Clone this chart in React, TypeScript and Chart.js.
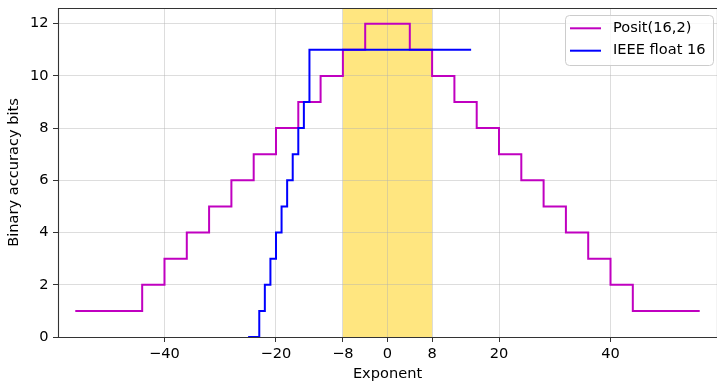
import React, { useEffect, useRef } from 'react';
import { Chart, registerables } from 'chart.js';

Chart.register(...registerables);

// ---- data ----
const positExponents = [-56, -44, -40, -36, -32, -28, -24, -20, -16, -12, -8, -4, 4, 8, 12, 16, 20, 24, 28, 32, 36, 40, 44, 56];
const positBits = [1, 2, 3, 4, 5, 6, 7, 8, 9, 10, 11, 12, 11, 10, 9, 8, 7, 6, 5, 4, 3, 2, 1, 1];
const ieeeExponents = [-25, -23, -22, -21, -20, -19, -18, -17, -16, -15, -14, 15];
const ieeeBits = [0, 1, 2, 3, 4, 5, 6, 7, 8, 9, 11, 11];
const xTicks = [-40, -20, -8, 0, 8, 20, 40];
const yTicks = [0, 2, 4, 6, 8, 10, 12];
const bandRange = [-8, 8];
const seriesLabels = ['Posit(16,2)', 'IEEE float 16'];
const seriesColors = ['#c000c0', '#0000ff'];
const xLabel = 'Exponent';
const yLabel = 'Binary accuracy bits';

const FONT_FAMILY = '"DejaVu Sans", sans-serif';
const FONT_SIZE = 14.6;

const fmt = (v: number) => (v < 0 ? '\u2212' + Math.abs(v) : String(v));

export default function App() {
  const ref = useRef<HTMLCanvasElement>(null);

  useEffect(() => {
    const canvas = ref.current;
    if (!canvas) return;

    const bandPlugin = {
      id: 'band',
      beforeDraw(chart: any) {
        const { ctx, chartArea, scales } = chart;
        const x0 = scales.x.getPixelForValue(bandRange[0]);
        const x1 = scales.x.getPixelForValue(bandRange[1]);
        ctx.save();
        ctx.fillStyle = '#ffe680';
        ctx.fillRect(x0, chartArea.top, x1 - x0, chartArea.bottom - chartArea.top);
        ctx.restore();
      },
    };

    const framePlugin = {
      id: 'frame',
      afterDatasetsDraw(chart: any) {
        const { ctx, chartArea } = chart;
        const l = Math.round(chartArea.left) + 0.5;
        const t = Math.round(chartArea.top) + 0.5;
        const b = Math.round(chartArea.bottom) + 0.5;
        const r = Math.round(chartArea.right) + 0.5;
        ctx.save();
        ctx.strokeStyle = '#333333';
        ctx.lineWidth = 1.1;
        ctx.beginPath();
        ctx.moveTo(r, t);
        ctx.lineTo(l, t);
        ctx.lineTo(l, b);
        ctx.lineTo(r, b);
        ctx.lineTo(r, t);
        ctx.stroke();
        ctx.restore();
      },
    };

    const legendPlugin = {
      id: 'legendBox',
      afterDraw(chart: any) {
        const { ctx } = chart;
        const bx = 565.5, by = 15.5, bw = 148, bh = 50, rad = 4;
        ctx.save();
        ctx.beginPath();
        ctx.moveTo(bx + rad, by);
        ctx.lineTo(bx + bw - rad, by);
        ctx.quadraticCurveTo(bx + bw, by, bx + bw, by + rad);
        ctx.lineTo(bx + bw, by + bh - rad);
        ctx.quadraticCurveTo(bx + bw, by + bh, bx + bw - rad, by + bh);
        ctx.lineTo(bx + rad, by + bh);
        ctx.quadraticCurveTo(bx, by + bh, bx, by + bh - rad);
        ctx.lineTo(bx, by + rad);
        ctx.quadraticCurveTo(bx, by, bx + rad, by);
        ctx.closePath();
        ctx.fillStyle = 'rgba(255,255,255,0.8)';
        ctx.fill();
        ctx.strokeStyle = '#cccccc';
        ctx.lineWidth = 1;
        ctx.stroke();
        const rows = [28.3, 50.7];
        seriesLabels.forEach((label, i) => {
          ctx.strokeStyle = seriesColors[i];
          ctx.lineWidth = 2;
          ctx.beginPath();
          ctx.moveTo(570, rows[i]);
          ctx.lineTo(601, rows[i]);
          ctx.stroke();
          ctx.fillStyle = '#000000';
          ctx.font = `${FONT_SIZE}px ${FONT_FAMILY}`;
          ctx.textAlign = 'left';
          ctx.textBaseline = 'middle';
          ctx.fillText(label, 613, rows[i]);
        });
        ctx.restore();
      },
    };

    const font = { family: FONT_FAMILY, size: FONT_SIZE, lineHeight: 1.2 };
    const gridColor = 'rgba(176,176,176,0.55)';

    const chart = new Chart(canvas, {
      type: 'line',
      data: {
        datasets: [
          {
            label: seriesLabels[0],
            data: positExponents.map((x, i) => ({ x, y: positBits[i] })),
            borderColor: seriesColors[0],
            backgroundColor: seriesColors[0],
            borderWidth: 2,
            pointRadius: 0,
            stepped: 'before',
            fill: false,
            order: 1,
          },
          {
            label: seriesLabels[1],
            data: ieeeExponents.map((x, i) => ({ x, y: ieeeBits[i] })),
            borderColor: seriesColors[1],
            backgroundColor: seriesColors[1],
            borderWidth: 2,
            pointRadius: 0,
            stepped: 'before',
            fill: false,
            order: 0,
          },
        ],
      },
      options: {
        responsive: false,
        animation: false,
        devicePixelRatio: 1,
        layout: { padding: { left: 0, right: -3, top: 8, bottom: 0 } },
        plugins: {
          legend: { display: false },
          tooltip: { enabled: false },
        },
        scales: {
          x: {
            type: 'linear',
            min: -59.1,
            max: 59.1,
            afterBuildTicks: (s: any) => {
              s.ticks = xTicks.map((v) => ({ value: v }));
            },
            afterFit: (s: any) => {
              s.height = 46;
              s.paddingLeft = 0;
              s.paddingRight = 0;
            },
            ticks: {
              callback: (v: any) => fmt(Number(v)),
              font,
              color: '#000000',
              padding: 3.4,
              maxRotation: 0,
              autoSkip: false,
            },
            grid: {
              color: gridColor,
              lineWidth: 0.8,
              drawTicks: true,
              tickLength: 5,
              tickColor: '#333333',
              tickWidth: 1,
            },
            border: { display: false },
            title: {
              display: true,
              text: xLabel,
              font,
              color: '#000000',
              padding: { top: 0, bottom: 0 },
            },
          },
          y: {
            type: 'linear',
            min: 0,
            max: 12.6,
            afterBuildTicks: (s: any) => {
              s.ticks = yTicks.map((v) => ({ value: v }));
            },
            afterFit: (s: any) => {
              s.width = 58;
              s.paddingTop = 0;
              s.paddingBottom = 0;
            },
            ticks: {
              callback: (v: any) => fmt(Number(v)),
              font,
              color: '#000000',
              padding: 4.5,
              autoSkip: false,
            },
            grid: {
              color: gridColor,
              lineWidth: 0.8,
              drawTicks: true,
              tickLength: 5,
              tickColor: '#333333',
              tickWidth: 1,
            },
            border: { display: false },
            title: {
              display: true,
              text: yLabel,
              font,
              color: '#000000',
              padding: { top: 5.1, bottom: 0 },
            },
          },
        },
      },
      plugins: [bandPlugin, framePlugin, legendPlugin],
    } as any);

    return () => {
      chart.destroy();
    };
  }, []);

  return (
    <div style={{ position: 'absolute', left: 0, top: 0, width: 717, height: 383 }}>
      <canvas ref={ref} width={717} height={383} style={{ display: 'block', width: 717, height: 383 }} />
    </div>
  );
}
